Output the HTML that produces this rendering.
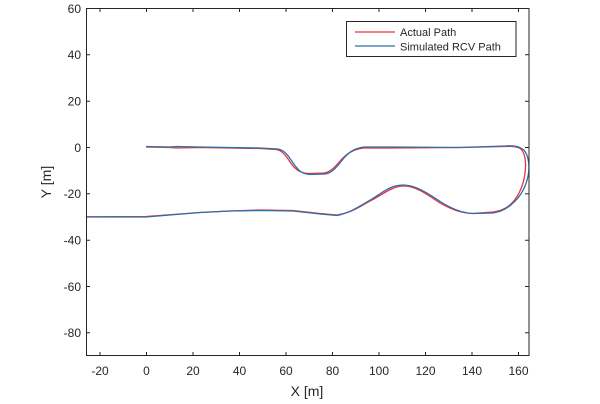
<!DOCTYPE html>
<html><head><style>
html,body{margin:0;padding:0;background:#fff;}
svg{display:block;font-family:"Liberation Sans",Arial,sans-serif;}
</style></head><body>
<svg width="600" height="404" viewBox="0 0 600 404" xmlns="http://www.w3.org/2000/svg">
<rect width="600" height="404" fill="#fff"/>
<defs><clipPath id="c"><rect x="86" y="8" width="443" height="348"/></clipPath></defs>
<g clip-path="url(#c)" fill="none" stroke-width="1.3" stroke-linejoin="round">
<path stroke="#e8353f" d="M146,147 L170,147.5 L176,148 L200,147.5 L230,148 L260,148.5 L276,149.5 C286,151 289,163 295,168 C299,172 303,173 308,173.5 L324,173 C332,172 337,164 343,158 C350,151 356,149 364,148 L393,148 L460,147.5 L505,146.5 C514,146 518,147 521,149 C526,154 526,166 525,173 C524,182 520,195 512,203 C506,209 500,211 493,212 L473,213.5 C462,213.5 452,210 440,203 C428,195 416,186 404,186 C392,186 384,194 370,201 C360,207 350,213 337,215 L320,213.5 L293,210.5 L260,210 L230,211 L200,212.5 L146,216.5 L86,216.8"/>
<path stroke="#2e6fa8" d="M146,146.5 L170,147 L176,146.5 L200,147 L230,147.5 L260,148 L278,149 C288,151 291,162 297,168 C301,173 305,174 310,174.5 L325,174 C333,173 338,165 344,158 C350,151 356,148 364,147 L393,147 L460,147.5 L505,146 C516,145 520,147 524,150 C529,156 530,168 528,176 C526,186 521,196 513,203 C507,209 500,212 493,213 L473,213.5 C462,213 452,209 441,202 C429,194 416,185 403,185 C391,185 383,192 372,199 C360,206 350,213 337,215.5 L320,214 L293,211 L260,210.5 L230,211 L200,212.5 L146,217 L86,217"/>
</g>
<g stroke="#262626" stroke-width="1" fill="none">
<rect x="86.5" y="8.5" width="442.5" height="347"/>
</g>
<g stroke="#262626" stroke-width="1">
<path d="M100,356v-4M146.5,356v-4M193,356v-4M239.5,356v-4M286,356v-4M332.5,356v-4M379,356v-4M425.5,356v-4M472,356v-4M518.5,356v-4
M100,8v4M146.5,8v4M193,8v4M239.5,8v4M286,8v4M332.5,8v4M379,8v4M425.5,8v4M472,8v4M518.5,8v4
M86,8.5h4M86,54.8h4M86,101.2h4M86,147.5h4M86,193.8h4M86,240.2h4M86,286.5h4M86,332.8h4
M529,8.5h-4M529,54.8h-4M529,101.2h-4M529,147.5h-4M529,193.8h-4M529,240.2h-4M529,286.5h-4M529,332.8h-4"/>
</g>
<g font-size="12" fill="#262626" text-anchor="middle">
<text x="100" y="375">-20</text><text x="146.5" y="375">0</text><text x="193" y="375">20</text><text x="239.5" y="375">40</text><text x="286" y="375">60</text><text x="332.5" y="375">80</text><text x="379" y="375">100</text><text x="425.5" y="375">120</text><text x="472" y="375">140</text><text x="518.5" y="375">160</text>
</g>
<g font-size="12" fill="#262626" text-anchor="end">
<text x="81" y="13">60</text><text x="81" y="59">40</text><text x="81" y="105.5">20</text><text x="81" y="152">0</text><text x="81" y="198">-20</text><text x="81" y="244.5">-40</text><text x="81" y="291">-60</text><text x="81" y="337">-80</text>
</g>
<text x="307" y="396" font-size="14" fill="#262626" text-anchor="middle">X [m]</text>
<text transform="translate(51,182) rotate(-90)" font-size="14" fill="#262626" text-anchor="middle">Y [m]</text>
<rect x="346.5" y="21.5" width="169.5" height="35" fill="#fff" stroke="#262626" stroke-width="1"/>
<line x1="355" y1="32" x2="395" y2="32" stroke="#e8353f" stroke-width="1.3"/>
<line x1="355" y1="46" x2="395" y2="46" stroke="#2e6fa8" stroke-width="1.3"/>
<text x="400" y="36" font-size="11" fill="#262626">Actual Path</text>
<text x="400" y="50.5" font-size="11" fill="#262626">Simulated RCV Path</text>
</svg>
</body></html>
